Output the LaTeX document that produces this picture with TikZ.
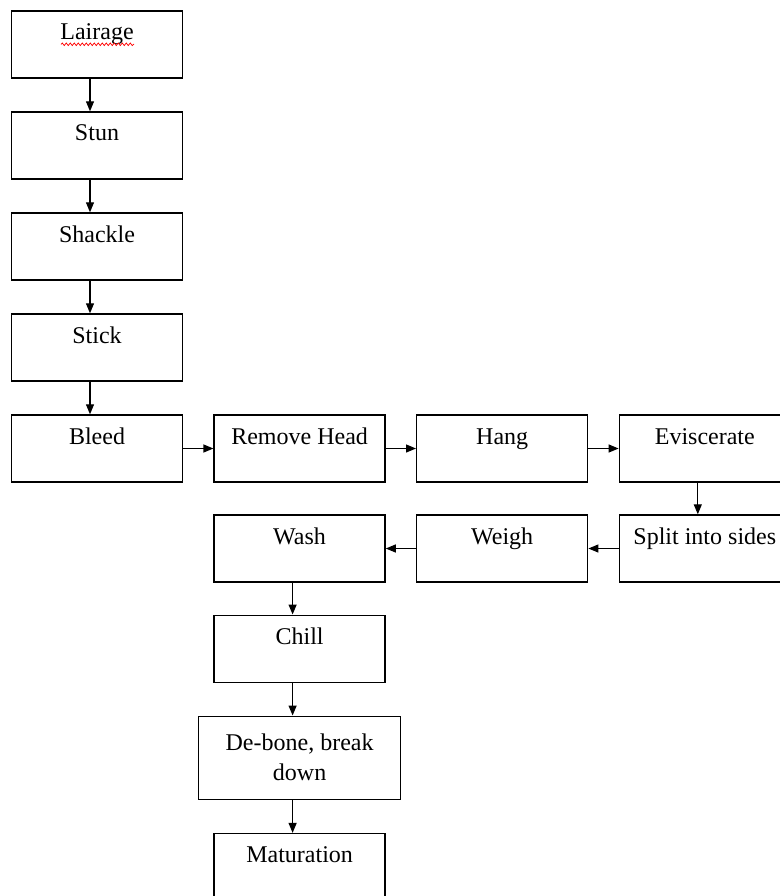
\documentclass[tikz,border=0pt]{standalone}
\usepackage{fontspec}
\setmainfont{Liberation Serif}
\usepackage{tikz}
\usetikzlibrary{positioning,arrows.meta,decorations.pathmorphing}

\tikzset{
    blk/.style={draw, line width=1.4pt, minimum width=171pt, minimum height=67pt,
        font=\fontsize{24}{30}\selectfont, align=center},
    stage/.style={blk, inner ysep=4pt, text height=25pt, text depth=34pt},
    arr/.style={-{Triangle[length=10pt,width=8pt]}, line width=1.2pt}
}

\begin{document}
\begin{tikzpicture}[x=1pt,y=1pt]
        \useasboundingbox (0,0) rectangle (779,-896);
        % first column
        \node[stage] (lairage) at (97,-44.5) {Lairage};
        \node[stage, below=32.6pt of lairage] (stun) {Stun};
        \node[stage, below=32.6pt of stun] (shackle) {Shackle};
        \node[stage, below=32.6pt of shackle] (stick) {Stick};
        \node[stage, below=32.6pt of stick] (bleed) {Bleed};
        % across the top row
        \node[stage, right=30.2pt of bleed] (head) {Remove Head};
        \node[stage, right=30.2pt of head] (hang) {Hang};
        \node[stage, right=30.2pt of hang] (evisc) {Eviscerate};
        % back along the second row
        \node[stage, below=31.6pt of evisc] (split) {Split into sides};
        \node[stage, left=30.2pt of split] (weigh) {Weigh};
        \node[stage, left=30.2pt of weigh] (wash) {Wash};
        % down again
        \node[stage, below=31.8pt of wash] (chill) {Chill};
        \node[blk, minimum width=202pt, minimum height=83pt, below=32.6pt of chill] (debone) {De-bone, break\\down};
        \node[stage, below=33pt of debone] (mature) {Maturation};

        \draw[red, line width=0.7pt, decorate, decoration={snake, amplitude=1.3pt, segment length=4pt}]
            ([xshift=-36pt,yshift=-34pt]lairage.north) -- ++(73,0); % spell check

        \draw[arr] ([xshift=-7pt]lairage.south) -- ([xshift=-7pt]stun.north);
        \draw[arr] ([xshift=-7pt]stun.south) -- ([xshift=-7pt]shackle.north);
        \draw[arr] ([xshift=-7pt]shackle.south) -- ([xshift=-7pt]stick.north);
        \draw[arr] ([xshift=-7pt]stick.south) -- ([xshift=-7pt]bleed.north);
        \draw[arr] (bleed) -- (head);
        \draw[arr] (head) -- (hang);
        \draw[arr] (hang) -- (evisc);
        \draw[arr] ([xshift=-7pt]evisc.south) -- ([xshift=-7pt]split.north);
        \draw[arr] (split) -- (weigh);
        \draw[arr] (weigh) -- (wash);
        \draw[arr] ([xshift=-7pt]wash.south) -- ([xshift=-7pt]chill.north);
        \draw[arr] ([xshift=-7pt]chill.south) -- ([xshift=-7pt]debone.north);
        \draw[arr] ([xshift=-7pt]debone.south) -- ([xshift=-7pt]mature.north);
    \end{tikzpicture}
\end{document}
